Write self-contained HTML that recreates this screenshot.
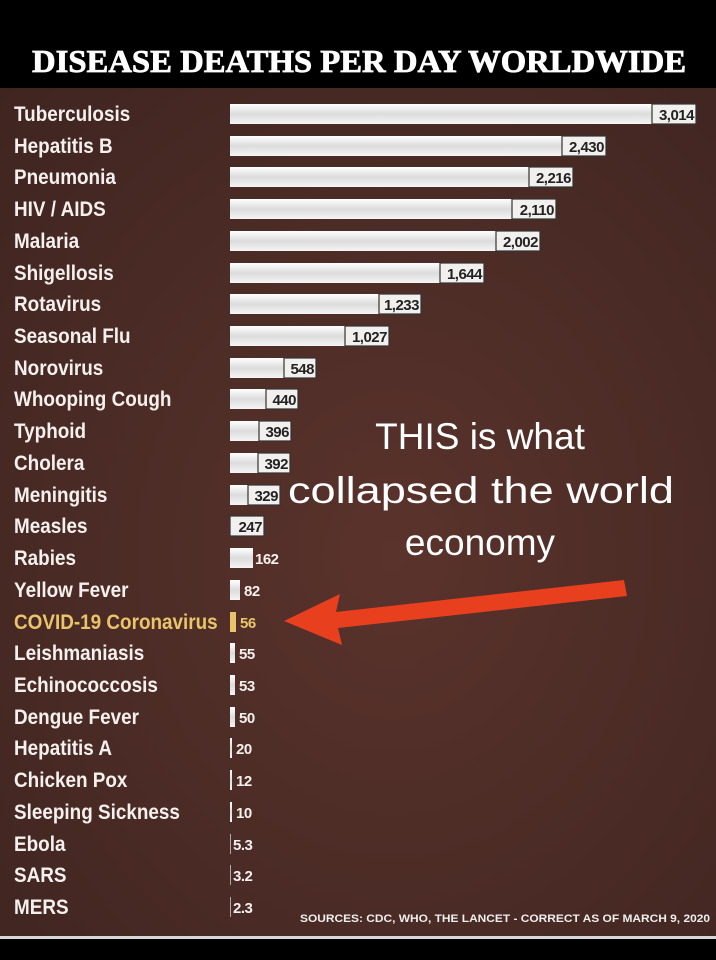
<!DOCTYPE html>
<html><head><meta charset="utf-8"><style>
html,body{margin:0;padding:0;background:#000}
svg{display:block}
.n{font-family:"Liberation Sans",sans-serif;font-weight:bold;font-size:21px;fill:#f4f0ee}
.v{font-family:"Liberation Sans",sans-serif;font-weight:bold;font-size:15px;fill:#222;letter-spacing:-0.5px}
.o{font-family:"Liberation Sans",sans-serif;font-weight:bold;font-size:15px;fill:#f4f0ee;letter-spacing:-0.5px}
.b{fill:url(#bg)}
.lb{fill:#f2f0ef;stroke:#333;stroke-width:1.2}
</style></head><body>
<svg width="716" height="960" viewBox="0 0 716 960" xmlns="http://www.w3.org/2000/svg">
<defs>
<radialGradient id="back" cx="0.55" cy="0.55" r="0.8">
<stop offset="0" stop-color="#5a332c"/><stop offset="1" stop-color="#3e2420"/></radialGradient>
<linearGradient id="bg" x1="0" y1="0" x2="0" y2="1">
<stop offset="0" stop-color="#ffffff"/><stop offset="0.5" stop-color="#dcdcdc"/><stop offset="1" stop-color="#f5f5f5"/></linearGradient>
</defs>
<rect x="0" y="0" width="716" height="960" fill="#000"/>
<rect x="0" y="88" width="716" height="848" fill="url(#back)"/>
<rect x="0" y="936" width="716" height="3" fill="#d8d8d8"/>
<text x="32" y="72" textLength="654" lengthAdjust="spacingAndGlyphs" font-family="Liberation Serif,serif" font-weight="bold" font-size="32" fill="#fff" stroke="#fff" stroke-width="0.8">DISEASE DEATHS PER DAY WORLDWIDE</text>

<g class="n" transform="scale(0.9,1)">
<text x="15.6" y="121">Tuberculosis</text>
<text x="15.6" y="153">Hepatitis B</text>
<text x="15.6" y="184">Pneumonia</text>
<text x="15.6" y="216">HIV / AIDS</text>
<text x="15.6" y="248">Malaria</text>
<text x="15.6" y="280">Shigellosis</text>
<text x="15.6" y="311">Rotavirus</text>
<text x="15.6" y="343">Seasonal Flu</text>
<text x="15.6" y="375">Norovirus</text>
<text x="15.6" y="406">Whooping Cough</text>
<text x="15.6" y="438">Typhoid</text>
<text x="15.6" y="470">Cholera</text>
<text x="15.6" y="502">Meningitis</text>
<text x="15.6" y="533">Measles</text>
<text x="15.6" y="565">Rabies</text>
<text x="15.6" y="597">Yellow Fever</text>
<text x="15.6" y="629" style="fill:#e9c46a">COVID-19 Coronavirus</text>
<text x="15.6" y="660">Leishmaniasis</text>
<text x="15.6" y="692">Echinococcosis</text>
<text x="15.6" y="724">Dengue Fever</text>
<text x="15.6" y="755">Hepatitis A</text>
<text x="15.6" y="787">Chicken Pox</text>
<text x="15.6" y="819">Sleeping Sickness</text>
<text x="15.6" y="851">Ebola</text>
<text x="15.6" y="882">SARS</text>
<text x="15.6" y="914">MERS</text>
</g>

<g>
<rect class="b" x="230" y="104" width="466" height="20"/><rect class="lb" x="652" y="104" width="44" height="20"/><text class="v" x="694" y="120" text-anchor="end">3,014</text>
<rect class="b" x="230" y="136" width="376" height="20"/><rect class="lb" x="562" y="136" width="44" height="20"/><text class="v" x="604" y="152" text-anchor="end">2,430</text>
<rect class="b" x="230" y="167" width="343" height="20"/><rect class="lb" x="529" y="167" width="44" height="20"/><text class="v" x="571" y="183" text-anchor="end">2,216</text>
<rect class="b" x="230" y="199" width="326" height="20"/><rect class="lb" x="512" y="199" width="44" height="20"/><text class="v" x="554" y="215" text-anchor="end">2,110</text>
<rect class="b" x="230" y="231" width="310" height="20"/><rect class="lb" x="496" y="231" width="44" height="20"/><text class="v" x="538" y="247" text-anchor="end">2,002</text>
<rect class="b" x="230" y="263" width="254" height="20"/><rect class="lb" x="440" y="263" width="44" height="20"/><text class="v" x="482" y="279" text-anchor="end">1,644</text>
<rect class="b" x="230" y="294" width="191" height="20"/><rect class="lb" x="379" y="294" width="42" height="20"/><text class="v" x="419" y="310" text-anchor="end">1,233</text>
<rect class="b" x="230" y="326" width="159" height="20"/><rect class="lb" x="345" y="326" width="44" height="20"/><text class="v" x="387" y="342" text-anchor="end">1,027</text>
<rect class="b" x="230" y="358" width="86" height="20"/><rect class="lb" x="284" y="358" width="32" height="20"/><text class="v" x="314" y="374" text-anchor="end">548</text>
<rect class="b" x="230" y="389" width="68" height="20"/><rect class="lb" x="266" y="389" width="32" height="20"/><text class="v" x="296" y="405" text-anchor="end">440</text>
<rect class="b" x="230" y="421" width="61" height="20"/><rect class="lb" x="259" y="421" width="32" height="20"/><text class="v" x="289" y="437" text-anchor="end">396</text>
<rect class="b" x="230" y="453" width="60" height="20"/><rect class="lb" x="258" y="453" width="32" height="20"/><text class="v" x="288" y="469" text-anchor="end">392</text>
<rect class="b" x="230" y="485" width="50" height="20"/><rect class="lb" x="248" y="485" width="32" height="20"/><text class="v" x="278" y="501" text-anchor="end">329</text>
<rect class="b" x="230" y="516" width="34" height="20"/><rect class="lb" x="230" y="516" width="34" height="20"/><text class="v" x="262" y="532" text-anchor="end">247</text>
<rect class="b" x="230" y="548" width="23" height="20"/><text class="o" x="255" y="564">162</text>
<rect class="b" x="230" y="580" width="10" height="20"/><text class="o" x="244" y="596">82</text>
<rect x="230" y="612" width="6" height="20" fill="#e9c46a"/><text class="o" x="240" y="628" style="fill:#e9c46a">56</text>
<rect class="b" x="230" y="643" width="5" height="20"/><text class="o" x="239" y="659">55</text>
<rect class="b" x="230" y="675" width="5" height="20"/><text class="o" x="239" y="691">53</text>
<rect class="b" x="230" y="707" width="5" height="20"/><text class="o" x="239" y="723">50</text>
<rect class="b" x="230" y="738" width="2" height="20"/><text class="o" x="236" y="754">20</text>
<rect class="b" x="230" y="770" width="2" height="20"/><text class="o" x="236" y="786">12</text>
<rect class="b" x="230" y="802" width="2" height="20"/><text class="o" x="236" y="818">10</text>
<rect x="230" y="834" width="1" height="20" fill="#aaa"/><text class="o" x="233" y="850">5.3</text>
<rect x="230" y="865" width="1" height="20" fill="#aaa"/><text class="o" x="233" y="881">3.2</text>
<rect x="230" y="897" width="1" height="20" fill="#aaa"/><text class="o" x="233" y="913">2.3</text>
</g>

<g font-family="Liberation Sans,sans-serif" font-size="37" fill="#fff" text-anchor="middle">
<text x="480" y="449">THIS is what</text>
<text x="481" y="503" textLength="386" lengthAdjust="spacingAndGlyphs">collapsed the world</text>
<text x="480" y="555">economy</text>
</g>

<polygon points="284,621 340,594 336,612 624,580 627,596 338,628 342,645" fill="#e8401f"/>

<text x="300" y="922" textLength="410" lengthAdjust="spacingAndGlyphs" font-family="Liberation Sans,sans-serif" font-weight="bold" font-size="11" fill="#eee">SOURCES: CDC, WHO, THE LANCET - CORRECT AS OF MARCH 9, 2020</text>
</svg>
</body></html>
